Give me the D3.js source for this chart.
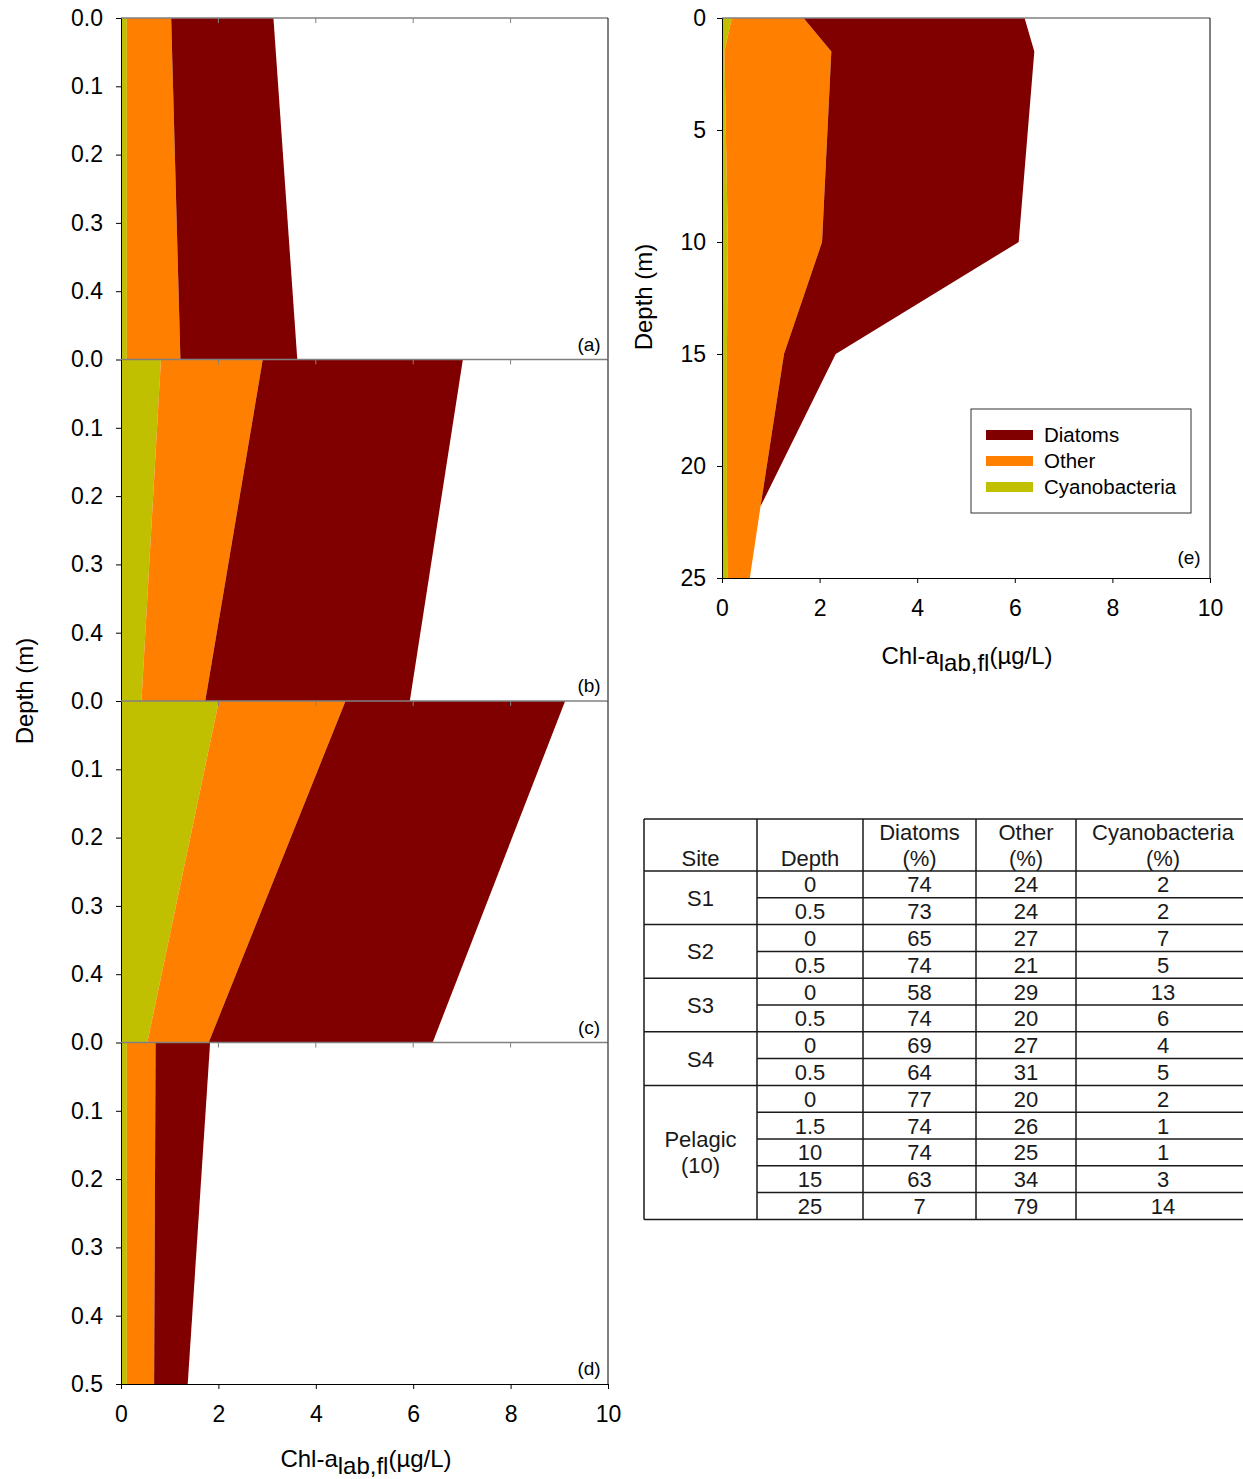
<!DOCTYPE html>
<html><head><meta charset="utf-8">
<script src="https://cdn.jsdelivr.net/npm/d3@7"></script>
<style>body{margin:0;background:#fff}svg{display:block}text{font-family:Arial,"Liberation Sans",sans-serif}</style>
</head><body><svg id="c" width="1243" height="1479"></svg>
<script>
// ---------- data ----------
const seriesKeys = ["cyano", "other", "diatoms"];
const seriesNames = ["Cyanobacteria", "Other", "Diatoms"];
const seriesColors = ["#C0C000", "#FF8000", "#800000"];

const panelLabels = ["(a)", "(b)", "(c)", "(d)"];
const leftDepths = [0, 0.5];
const leftCyano   = [[0.12, 0.12], [0.82, 0.42], [2.01, 0.54], [0.12, 0.12]];
const leftOther   = [[0.91, 1.10], [2.09, 1.31], [2.60, 1.26], [0.59, 0.56]];
const leftDiatoms = [[2.10, 2.40], [4.11, 4.20], [4.51, 4.60], [1.12, 0.69]];

const pelDepths  = [0, 1.5, 10, 15, 21.8, 25];
const pelCyano   = [0.20, 0.05, 0.12, 0.10, 0.10, 0.11];
const pelOther   = [1.47, 2.19, 1.93, 1.17, 0.69, 0.46];
const pelDiatoms = [4.53, 4.16, 4.03, 1.06, 0.00, 0.00];

const xTicks = [0, 2, 4, 6, 8, 10];
const leftYTicks = [0, 0.1, 0.2, 0.3, 0.4];
const leftYTicksLast = [0, 0.1, 0.2, 0.3, 0.4, 0.5];
const pelYTicks = [0, 5, 10, 15, 20, 25];

const tableHeaders = [["Site"], ["Depth"], ["Diatoms", "(%)"], ["Other", "(%)"], ["Cyanobacteria", "(%)"]];
const tableSites = [["S1"], ["S2"], ["S3"], ["S4"], ["Pelagic", "(10)"]];
const tableSiteSpans = [2, 2, 2, 2, 5];
const tableDepths = ["0", "0.5", "0", "0.5", "0", "0.5", "0", "0.5", "0", "1.5", "10", "15", "25"];
const tableDiatoms = [74, 73, 65, 74, 58, 74, 69, 64, 77, 74, 74, 63, 7];
const tableOther = [24, 24, 27, 21, 29, 20, 27, 31, 20, 26, 25, 34, 79];
const tableCyano = [2, 2, 7, 5, 13, 6, 4, 5, 2, 1, 1, 3, 14];

// ---------- drawing ----------
const svg = d3.select("#c");
const stack = d3.stack().keys(seriesKeys);
const TICK_FS = 23, LABEL_FS = 24;

function drawPanel(g, rows, x, y, label, labelPos) {
  const layers = stack(rows);
  const area = d3.area()
    .y(d => y(d.data.depth))
    .x0(d => x(d[0]))
    .x1(d => x(d[1]));
  g.selectAll("path.layer").data(layers).join("path")
    .attr("class", "layer")
    .attr("fill", (d, i) => seriesColors[i])
    .attr("d", area);
  g.append("text").attr("x", labelPos[0]).attr("y", labelPos[1])
    .attr("text-anchor", "middle").attr("font-size", 19).attr("fill", "#000").text(label);
}

function styleAxis(sel, fs) {
  sel.selectAll("text").attr("font-size", fs).attr("fill", "#000");
  sel.selectAll("line").attr("stroke", "#000");
  sel.select(".domain").attr("stroke", "#000");
}

// left panels
const LX0 = 121, LX1 = 608, LTOP = 18, PH = 341.5;
const xL = d3.scaleLinear().domain([0, 10]).range([LX0, LX1]);
for (let p = 0; p < 4; p++) {
  const top = LTOP + p * PH, bot = top + PH;
  const y = d3.scaleLinear().domain([0, 0.5]).range([top, bot]);
  const rows = leftDepths.map((dep, i) => ({
    depth: dep, cyano: leftCyano[p][i], other: leftOther[p][i], diatoms: leftDiatoms[p][i]
  }));
  const g = svg.append("g");
  drawPanel(g, rows, xL, y, panelLabels[p], [LX1 - 19, bot - 9]);
  g.append("line").attr("x1", LX0).attr("x2", LX1).attr("y1", top).attr("y2", top)
    .attr("stroke", "#808080").attr("stroke-width", 1.5);
  g.append("line").attr("x1", LX1).attr("x2", LX1).attr("y1", top).attr("y2", bot)
    .attr("stroke", "#000").attr("stroke-width", 1);
  g.selectAll("line.tt").data(xTicks.slice(1, -1)).join("line").attr("class", "tt")
    .attr("x1", d => xL(d)).attr("x2", d => xL(d)).attr("y1", top).attr("y2", top + 5)
    .attr("stroke", "#808080");
  const ticks = p === 3 ? leftYTicksLast : leftYTicks;
  const ya = g.append("g").attr("transform", `translate(${LX0},0)`)
    .call(d3.axisLeft(y).tickValues(ticks).tickFormat(d3.format(".1f")).tickSize(5).tickPadding(13).tickSizeOuter(0));
  styleAxis(ya, TICK_FS);
  if (p === 3) {
    const xa = g.append("g").attr("transform", `translate(0,${bot})`)
      .call(d3.axisBottom(xL).tickValues(xTicks).tickSize(5).tickPadding(17).tickSizeOuter(0));
    styleAxis(xa, TICK_FS);
  }
}
svg.append("text").attr("transform", "translate(33,691) rotate(-90)")
  .attr("text-anchor", "middle").attr("font-size", LABEL_FS).text("Depth (m)");

function chlLabel(cx, by) {
  const t = svg.append("text").attr("x", cx).attr("y", by).attr("text-anchor", "middle").attr("font-size", LABEL_FS);
  t.append("tspan").text("Chl-a");
  t.append("tspan").attr("dy", 7).text("lab,fl");
  t.append("tspan").attr("dy", -7).text("(\u00b5g/L)");
}
chlLabel(366, 1467);

// right panel (e)
const EX0 = 722, EX1 = 1210, ET = 18, EB = 578;
const xE = d3.scaleLinear().domain([0, 10]).range([EX0, EX1]);
const yE = d3.scaleLinear().domain([0, 25]).range([ET, EB]);
const eRows = pelDepths.map((dep, i) => ({
  depth: dep, cyano: pelCyano[i], other: pelOther[i], diatoms: pelDiatoms[i]
}));
const ge = svg.append("g");
drawPanel(ge, eRows, xE, yE, "(e)", [EX1 - 21, EB - 14]);
ge.append("line").attr("x1", EX0).attr("x2", EX1).attr("y1", ET).attr("y2", ET)
  .attr("stroke", "#808080").attr("stroke-width", 1.5);
ge.append("line").attr("x1", EX1).attr("x2", EX1).attr("y1", ET).attr("y2", EB)
  .attr("stroke", "#000").attr("stroke-width", 1);
const eya = ge.append("g").attr("transform", `translate(${EX0},0)`)
  .call(d3.axisLeft(yE).tickValues(pelYTicks).tickSize(5).tickPadding(11).tickSizeOuter(0));
styleAxis(eya, TICK_FS);
const exa = ge.append("g").attr("transform", `translate(0,${EB})`)
  .call(d3.axisBottom(xE).tickValues(xTicks).tickSize(5).tickPadding(17).tickSizeOuter(0));
styleAxis(exa, TICK_FS);
svg.append("text").attr("transform", "translate(652,297) rotate(-90)")
  .attr("text-anchor", "middle").attr("font-size", LABEL_FS).text("Depth (m)");
chlLabel(967, 664);

// legend
const lg = svg.append("g");
lg.append("rect").attr("x", 971).attr("y", 409).attr("width", 220).attr("height", 104)
  .attr("fill", "#fff").attr("stroke", "#333").attr("stroke-width", 1);
const legendOrder = [2, 1, 0];
legendOrder.forEach((si, i) => {
  const cy = 435 + i * 26;
  lg.append("rect").attr("x", 986).attr("y", cy - 5).attr("width", 47).attr("height", 10).attr("fill", seriesColors[si]);
  lg.append("text").attr("x", 1044).attr("y", cy + 7).attr("font-size", 20.5).text(seriesNames[si]);
});

// table
const colX = [644, 757, 863, 976, 1076, 1250];
const tTop = 819, hBot = 871, rowH = 26.8;
const nRows = tableDepths.length;
const tBot = hBot + nRows * rowH;
const tg = svg.append("g").attr("font-size", 22).attr("fill", "#1a1a1a");
const lineC = "#1a1a1a", lw = 1.5;
colX.forEach(cx => tg.append("line").attr("x1", cx).attr("x2", cx).attr("y1", tTop).attr("y2", tBot).attr("stroke", lineC).attr("stroke-width", lw));
[tTop, hBot, tBot].forEach(yy => tg.append("line").attr("x1", colX[0]).attr("x2", colX[5]).attr("y1", yy).attr("y2", yy).attr("stroke", lineC).attr("stroke-width", lw));
let cum = 0; const groupEnds = new Set();
tableSiteSpans.forEach(s => { cum += s; groupEnds.add(cum); });
for (let r = 1; r < nRows; r++) {
  const yy = hBot + r * rowH;
  const x1 = groupEnds.has(r) ? colX[0] : colX[1];
  tg.append("line").attr("x1", x1).attr("x2", colX[5]).attr("y1", yy).attr("y2", yy).attr("stroke", lineC).attr("stroke-width", lw);
}
tableHeaders.forEach((h, c) => {
  const cx = (colX[c] + colX[c + 1]) / 2;
  h.forEach((t, k) => {
    const by = hBot - 5 - (h.length - 1 - k) * 26;
    tg.append("text").attr("x", cx).attr("y", by).attr("text-anchor", "middle").text(t);
  });
});
let start = 0;
tableSites.forEach((s, i) => {
  const span = tableSiteSpans[i];
  const cy = hBot + (start + span / 2) * rowH;
  const cx = (colX[0] + colX[1]) / 2;
  s.forEach((t, k) => {
    tg.append("text").attr("x", cx).attr("y", cy + 8 + (k - (s.length - 1) / 2) * 26).attr("text-anchor", "middle").text(t);
  });
  start += span;
});
const cols = [tableDepths, tableDiatoms, tableOther, tableCyano];
cols.forEach((arr, ci) => {
  const c = ci + 1;
  const cx = (colX[c] + colX[c + 1]) / 2;
  arr.forEach((v, r) => {
    tg.append("text").attr("x", cx).attr("y", hBot + (r + 0.5) * rowH + 8).attr("text-anchor", "middle").text(v);
  });
});
</script></body></html>
